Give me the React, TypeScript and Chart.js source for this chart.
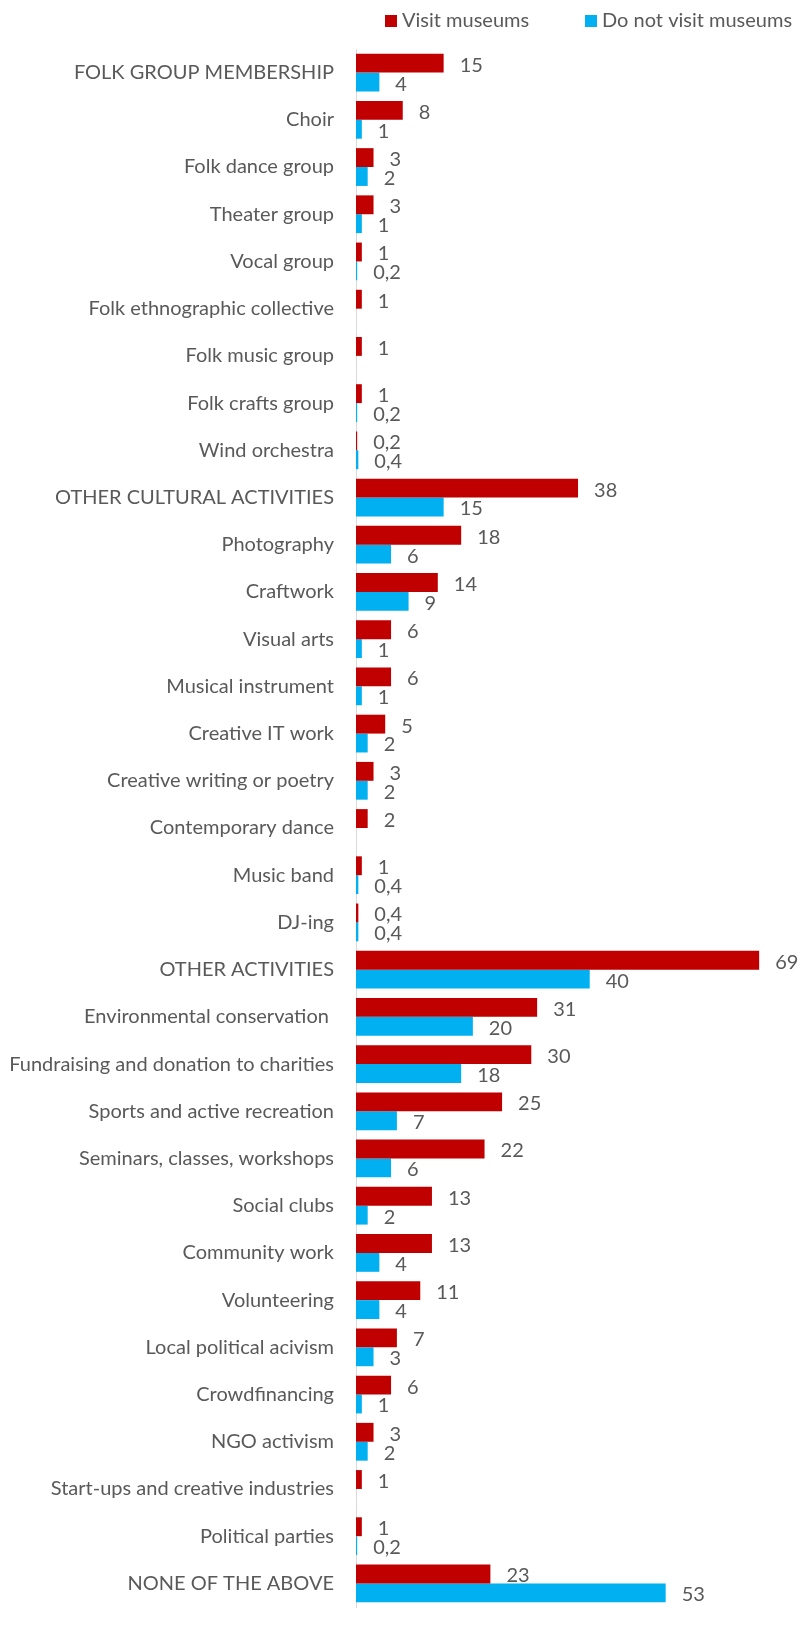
import React, { useEffect, useRef } from "react";
import { Chart, registerables } from "chart.js";

Chart.register(...registerables);

const categories = [
  "FOLK GROUP MEMBERSHIP",
  "Choir",
  "Folk dance group",
  "Theater group",
  "Vocal group",
  "Folk ethnographic collective",
  "Folk music group",
  "Folk crafts group",
  "Wind orchestra",
  "OTHER CULTURAL ACTIVITIES",
  "Photography",
  "Craftwork",
  "Visual arts",
  "Musical instrument",
  "Creative IT work",
  "Creative writing or poetry",
  "Contemporary dance",
  "Music band",
  "DJ-ing",
  "OTHER ACTIVITIES",
  "Environmental conservation ",
  "Fundraising and donation to charities",
  "Sports and active recreation",
  "Seminars, classes, workshops",
  "Social clubs",
  "Community work",
  "Volunteering",
  "Local political acivism",
  "Crowdfinancing",
  "NGO activism",
  "Start-ups and creative industries",
  "Political parties",
  "NONE OF THE ABOVE",
];

const visitMuseums = [
  15, 8, 3, 3, 1, 1, 1, 1, 0.2, 38, 18, 14, 6, 6, 5, 3, 2, 1, 0.4, 69, 31, 30, 25, 22, 13, 13, 11, 7, 6, 3, 1, 1, 23,
];

const notVisitMuseums = [
  4, 1, 2, 1, 0.2, null, null, 0.2, 0.4, 15, 6, 9, 1, 1, 2, 2, null, 0.4, 0.4, 40, 20, 18, 7, 6, 2, 4, 4, 3, 1, 2, null, 0.2, 53,
];

const seriesNames = ["Visit museums", "Do not visit museums"];
const seriesColors = ["#C00000", "#00B0F0"];

const FONT_FAMILY = "Lato, 'Open Sans', sans-serif";
const FONT_SIZE = 20;
const TEXT_COLOR = "#595959";

const valueLabelPlugin = {
  id: "valueLabels",
  afterDatasetsDraw(chart: any) {
    const ctx = chart.ctx;
    ctx.save();
    ctx.font = `${FONT_SIZE}px ${FONT_FAMILY}`;
    ctx.fillStyle = TEXT_COLOR;
    ctx.textAlign = "left";
    ctx.textBaseline = "middle";
    chart.data.datasets.forEach((ds: any, di: number) => {
      const meta = chart.getDatasetMeta(di);
      meta.data.forEach((el: any, i: number) => {
        const v = ds.data[i];
        if (v === null || v === undefined) return;
        ctx.fillText(String(v).replace(".", ","), el.x + 16, el.y + 2);
      });
    });
    ctx.restore();
  },
};

const customLegendPlugin = {
  id: "customLegend",
  afterDraw(chart: any) {
    const ctx = chart.ctx;
    ctx.save();
    ctx.font = `${FONT_SIZE}px ${FONT_FAMILY}`;
    ctx.textAlign = "left";
    ctx.textBaseline = "middle";
    const starts = [385, 585];
    chart.data.datasets.forEach((ds: any, i: number) => {
      const x = starts[i];
      ctx.fillStyle = ds.backgroundColor;
      ctx.fillRect(x, 15, 12, 12);
      ctx.fillStyle = TEXT_COLOR;
      ctx.fillText(ds.label, x + 17, 21);
    });
    ctx.restore();
  },
};

export default function App() {
  const canvasRef = useRef<HTMLCanvasElement | null>(null);

  useEffect(() => {
    if (!canvasRef.current) return;
    const chart = new Chart(canvasRef.current, {
      type: "bar",
      data: {
        labels: categories,
        datasets: [
          {
            label: seriesNames[0],
            data: visitMuseums,
            backgroundColor: seriesColors[0],
            categoryPercentage: 0.8,
            barPercentage: 1.0,
          },
          {
            label: seriesNames[1],
            data: notVisitMuseums,
            backgroundColor: seriesColors[1],
            categoryPercentage: 0.8,
            barPercentage: 1.0,
          },
        ],
      },
      options: {
        indexAxis: "y",
        responsive: false,
        animation: false,
        devicePixelRatio: 1,
        layout: { padding: { top: 49, right: 35, bottom: 0, left: 0 } },
        plugins: {
          legend: { display: false },
          tooltip: { enabled: false },
        },
        scales: {
          x: {
            display: false,
            min: 0,
            max: 70,
          },
          y: {
            afterFit(scale: any) {
              scale.width = 356;
            },
            grid: { display: false, drawTicks: false },
            border: { display: true, color: "#D9D9D9", width: 1 },
            ticks: {
              autoSkip: false,
              padding: 22,
              color: TEXT_COLOR,
              font: { family: FONT_FAMILY, size: FONT_SIZE },
            },
          },
        },
      },
      plugins: [valueLabelPlugin, customLegendPlugin],
    } as any);
    return () => chart.destroy();
  }, []);

  return (
    <div
      style={{
        position: "absolute",
        left: 0,
        top: 0,
        width: 800,
        height: 1636,
        overflow: "hidden",
        background: "#ffffff",
      }}
    >
      <canvas ref={canvasRef} width={800} height={1641} style={{ display: "block" }} />
    </div>
  );
}
